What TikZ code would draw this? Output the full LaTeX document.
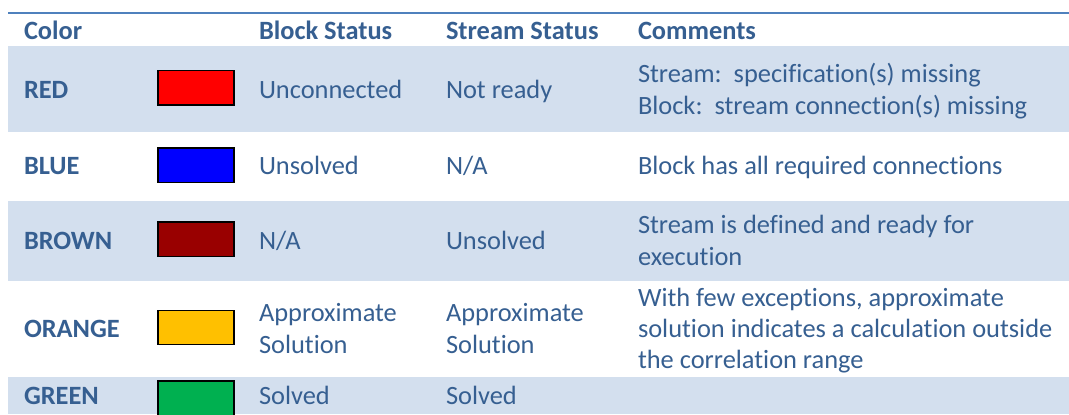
\documentclass[tikz,border=0pt]{standalone}
\usepackage{fontspec}
\setmainfont[Ligatures=NoCommon]{Carlito}
\definecolor{txt}{HTML}{365F91}
\definecolor{rule}{HTML}{4F81BD}
\definecolor{shade}{HTML}{D3DFEE}
\definecolor{swred}{HTML}{FF0000}
\definecolor{swblue}{HTML}{0000FF}
\definecolor{swbrown}{HTML}{990000}
\definecolor{sworange}{HTML}{FFC000}
\definecolor{swgreen}{HTML}{00B050}
\tikzset{
  cell/.style={anchor=base west, inner sep=0pt, outer sep=0pt, text=txt, font=\fontsize{19.8}{23.9}\selectfont},
  hcell/.style={cell, font=\fontsize{19.8}{23.9}\selectfont\bfseries},
  swatch/.style={draw=black, line width=1.4pt},
  band/.style={fill=shade, draw=none}
}
\begin{document}
\begin{tikzpicture}[x=0.75pt,y=-0.75pt]
\useasboundingbox (0,0) rectangle (1069,414);
% shaded rows
\fill[band] (8,46) rectangle (1069,132);
\fill[band] (8,201) rectangle (1069,281);
\fill[band] (8,377) rectangle (1069,414);
% top rule
\draw[rule, line width=1.5pt] (8,13) -- (1069,13);
% header
\node[hcell] (hcolor) at (24,39) {Color};
\node[hcell] (hblock) at (259,39) {Block Status};
\node[hcell] (hstream) at (446,39) {Stream Status};
\node[hcell] (hcomm) at (638,39) {Comments};
% RED
\node[hcell] (cred) at (24,98.5) {RED};
\fill[swred] (158,70.5) rectangle (234,105); \draw[swatch] (158,70.5) rectangle (234,105);
\node[cell] (bred) at (259,98.5) {Unconnected};
\node[cell] (sred) at (446,98.5) {Not ready};
\node[cell] (mred1) at (638,82.5) {Stream:\ \ specification(s) missing};
\node[cell] (mred2) at (638,114) {Block:\ \ stream connection(s) missing};
% BLUE
\node[hcell] (cblue) at (24,174) {BLUE};
\fill[swblue] (158,148) rectangle (234,182.5); \draw[swatch] (158,148) rectangle (234,182.5);
\node[cell] (bblue) at (259,174) {Unsolved};
\node[cell] (sblue) at (446,174) {N/A};
\node[cell] (mblue) at (638,174) {Block has all required connections};
% BROWN
\node[hcell] (cbrown) at (24,249) {BROWN};
\fill[swbrown] (158,222) rectangle (234,256.5); \draw[swatch] (158,222) rectangle (234,256.5);
\node[cell] (bbrown) at (259,249) {N/A};
\node[cell] (sbrown) at (446,249) {Unsolved};
\node[cell] (mbrown1) at (638,233.5) {Stream is defined and ready for};
\node[cell] (mbrown2) at (638,265.5) {execution};
% ORANGE
\node[hcell] (corange) at (24,337.5) {ORANGE};
\fill[sworange] (158,310.5) rectangle (234,344.5); \draw[swatch] (158,310.5) rectangle (234,344.5);
\node[cell] (borange1) at (259,321) {Approximate};
\node[cell] (borange2) at (259,353) {Solution};
\node[cell] (sorange1) at (446,321) {Approximate};
\node[cell] (sorange2) at (446,353) {Solution};
\node[cell] (morange1) at (638,306) {With few exceptions, approximate};
\node[cell] (morange2) at (638,337) {solution indicates a calculation outside};
\node[cell] (morange3) at (638,368) {the correlation range};
% GREEN
\node[hcell] (cgreen) at (24,404) {GREEN};
\fill[swgreen] (158,381) rectangle (234,420); \draw[swatch] (158,381) rectangle (234,420);
\node[cell] (bgreen) at (259,404) {Solved};
\node[cell] (sgreen) at (446,404) {Solved};
\end{tikzpicture}
\end{document}
